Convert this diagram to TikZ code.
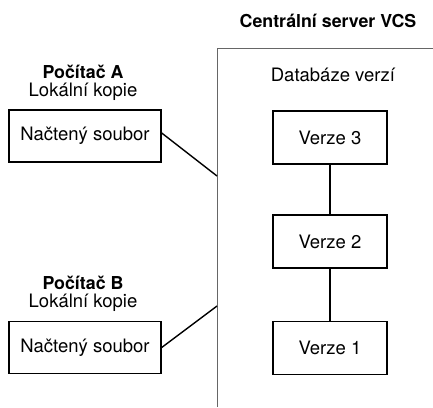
\documentclass[tikz,border=0pt]{standalone}
\usepackage{fontspec}
\setmainfont{TeX Gyre Heros}
\begin{document}
\begin{tikzpicture}[x=1pt,y=-1pt,
  every node/.style={font=\fontsize{18.5}{22}\selectfont, inner sep=0pt},
  filebox/.style={draw=black, line width=1.4pt, minimum width=152pt, minimum height=52pt},
  verbox/.style={draw=black, line width=1.4pt, minimum width=114pt, minimum height=53pt},
  link/.style={draw=black, line width=1.4pt},
  heading/.style={font=\fontsize{17.8}{21}\selectfont\bfseries}]
\useasboundingbox (0,0) rectangle (433,407);
% server frame
\draw[gray!80!black, line width=1pt] (217,407) -- (217,48) -- (433,48);
\node[heading] (title) at (328,21) {Centrální server VCS};
\node (db) at (333,75) {Databáze verzí};
\node[verbox] (v3) at (330,137.5) {Verze 3};
\node[verbox] (v2) at (330,241.5) {Verze 2};
\node[verbox] (v1) at (330,348) {Verze 1};
\draw[link] (v3) -- (v2);
\draw[link] (v2) -- (v1);
% computer A
\node[heading] (pcA) at (83,72) {Počítač A};
\node (lokA) at (83,92) {Lokální kopie};
\node[filebox] (fA) at (85,136) {Načtený soubor};
% computer B
\node[heading] (pcB) at (83,283) {Počítač B};
\node (lokB) at (83,303) {Lokální kopie};
\node[filebox] (fB) at (85,347.5) {Načtený soubor};
\coordinate (sA) at (217,176);
\coordinate (sB) at (217,306);
\draw[link] (fA.east) ++(0,-3) -- (sA);
\draw[link] (fB.east) -- (sB);
\end{tikzpicture}
\end{document}
